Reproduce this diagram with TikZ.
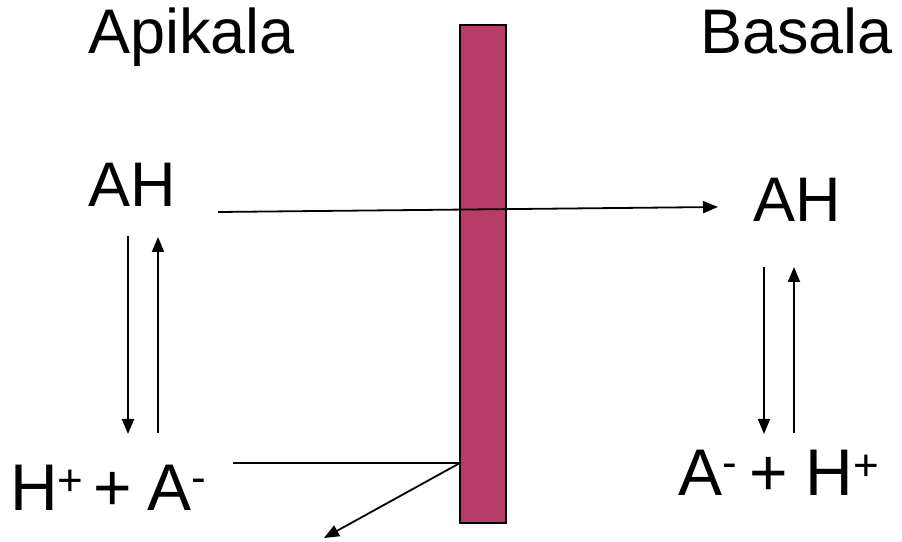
\documentclass[tikz,border=0pt]{standalone}
\usepackage{fontspec}
\setmainfont{Liberation Sans}
\usetikzlibrary{arrows.meta}
\definecolor{membrane}{HTML}{B83C68}
\newcommand\supplus{\raisebox{15pt}{\fontsize{44}{48}\selectfont +}}
\newcommand\supminus{\raisebox{18pt}{\fontsize{44}{48}\selectfont -}}
\begin{document}
\begin{tikzpicture}[x=1pt,y=1pt,
  lbl/.style={inner sep=0pt,anchor=base west,font=\fontsize{63}{70}\selectfont},
  ion/.style={inner sep=0pt,anchor=base west,font=\fontsize{66}{72}\selectfont},
  conn/.style={line width=1.8pt,-{Triangle[length=15pt,width=12pt]}},
  plain/.style={line width=1.8pt}]
\useasboundingbox (0,0) rectangle (902,541);
% membrane
\node[draw=black,line width=2pt,fill=membrane,minimum width=46pt,minimum height=498pt,inner sep=0pt] (mem) at (483,267) {};
% labels
\node[lbl] (api) at (88,487) {Apikala};
\node[lbl] (bas) at (700,487) {Basala};
\node[lbl] (ahL) at (88,334) {AH};
\node[lbl] (ahR) at (753,319) {AH};
\node[ion] (haL) at (10,31) {H\supplus\hspace{10pt}+\hspace{15pt}A\supminus};
\node[ion] (haR) at (678,46) {A\supminus\hspace{13pt}+\hspace{17pt}H\supplus};
% connector points
\coordinate (tr1) at (218,329);
\coordinate (tr2) at (718,334);
\coordinate (ld1) at (128,305);
\coordinate (ld2) at (128,107);
\coordinate (lu1) at (158,108);
\coordinate (lu2) at (158,304);
\coordinate (rd1) at (764,274);
\coordinate (rd2) at (764,107);
\coordinate (ru1) at (794,108);
\coordinate (ru2) at (794,274);
\coordinate (bl1) at (233,78);
\coordinate (bl2) at (460,78);
\coordinate (bt) at (324,3);
% connectors
\draw[conn] (tr1) -- (tr2);
\draw[conn] (ld1) -- (ld2);
\draw[conn] (lu1) -- (lu2);
\draw[conn] (rd1) -- (rd2);
\draw[conn] (ru1) -- (ru2);
\draw[plain] (bl1) -- (bl2);
\draw[conn] (bl2) -- (bt);
\end{tikzpicture}
\end{document}
